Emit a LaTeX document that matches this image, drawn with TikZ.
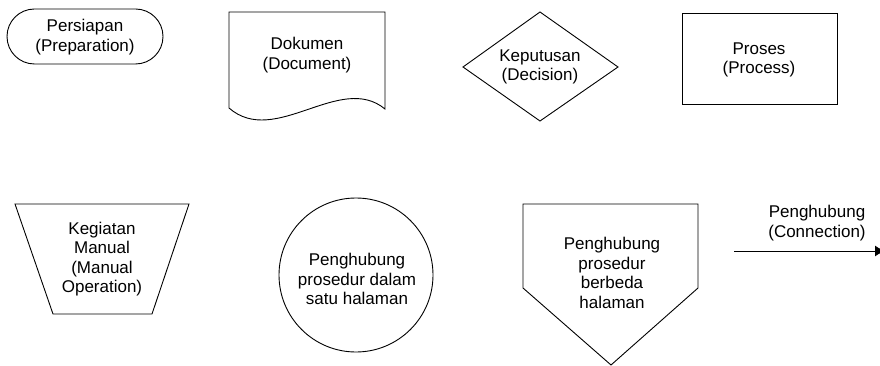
\documentclass[tikz,border=0pt]{standalone}
\usepackage{fontspec}
\setmainfont{Liberation Sans}
\usepackage{tikz}
\usetikzlibrary{arrows.meta}

\begin{document}
\begin{tikzpicture}[x=1pt,y=1pt,line width=0.9pt]
\tikzstyle{every node}+=[inner sep=0pt,align=center,font=\fontsize{17}{19.5}\selectfont]
\useasboundingbox (0,0) rectangle (880,-366);
% baris atas
\draw [black, rounded corners=27.5] (7,-9) rectangle (163,-64);
\node (prep) at (85,-37) {Persiapan\\(Preparation)};
\draw [black] (229,-12) -- (385,-12) -- (385,-109) .. controls (340,-72) and (275,-148) .. (229,-108) -- cycle;
\node (doc) at (307,-55) {Dokumen\\(Document)};
\draw [black] (540,-12) -- (618,-67) -- (540,-121) -- (463,-67) -- cycle;
\node (dec) at (540,-67) {Keputusan\\(Decision)};
\draw [black] (682,-13) rectangle (837,-104);
\node (proc) at (759,-60) {Proses\\(Process)};
% baris bawah
\draw [black] (15,-204) -- (189,-204) -- (152,-314) -- (53,-314) -- cycle;
\node (manual) at (102,-259) {Kegiatan\\Manual\\(Manual\\Operation)};
\draw [black] (356,-275) circle (77);
\node (onpage) at (357,-279) {Penghubung\\prosedur dalam\\satu halaman};
\draw [black] (523,-204) -- (698,-204) -- (698,-288) -- (611,-365) -- (523,-288) -- cycle;
\node (offpage) at (612,-273) {Penghubung\\prosedur\\berbeda\\halaman};
%\draw [black] (734,-251) -- (880,-251);
\node (conn) at (817,-223) {Penghubung\\(Connection)};
\coordinate (connA) at (734,-251);
\coordinate (connB) at (885,-251);
\draw [black, -{Latex[length=10pt,width=11pt]}] (connA) -- (connB);
\end{tikzpicture}
\end{document}
